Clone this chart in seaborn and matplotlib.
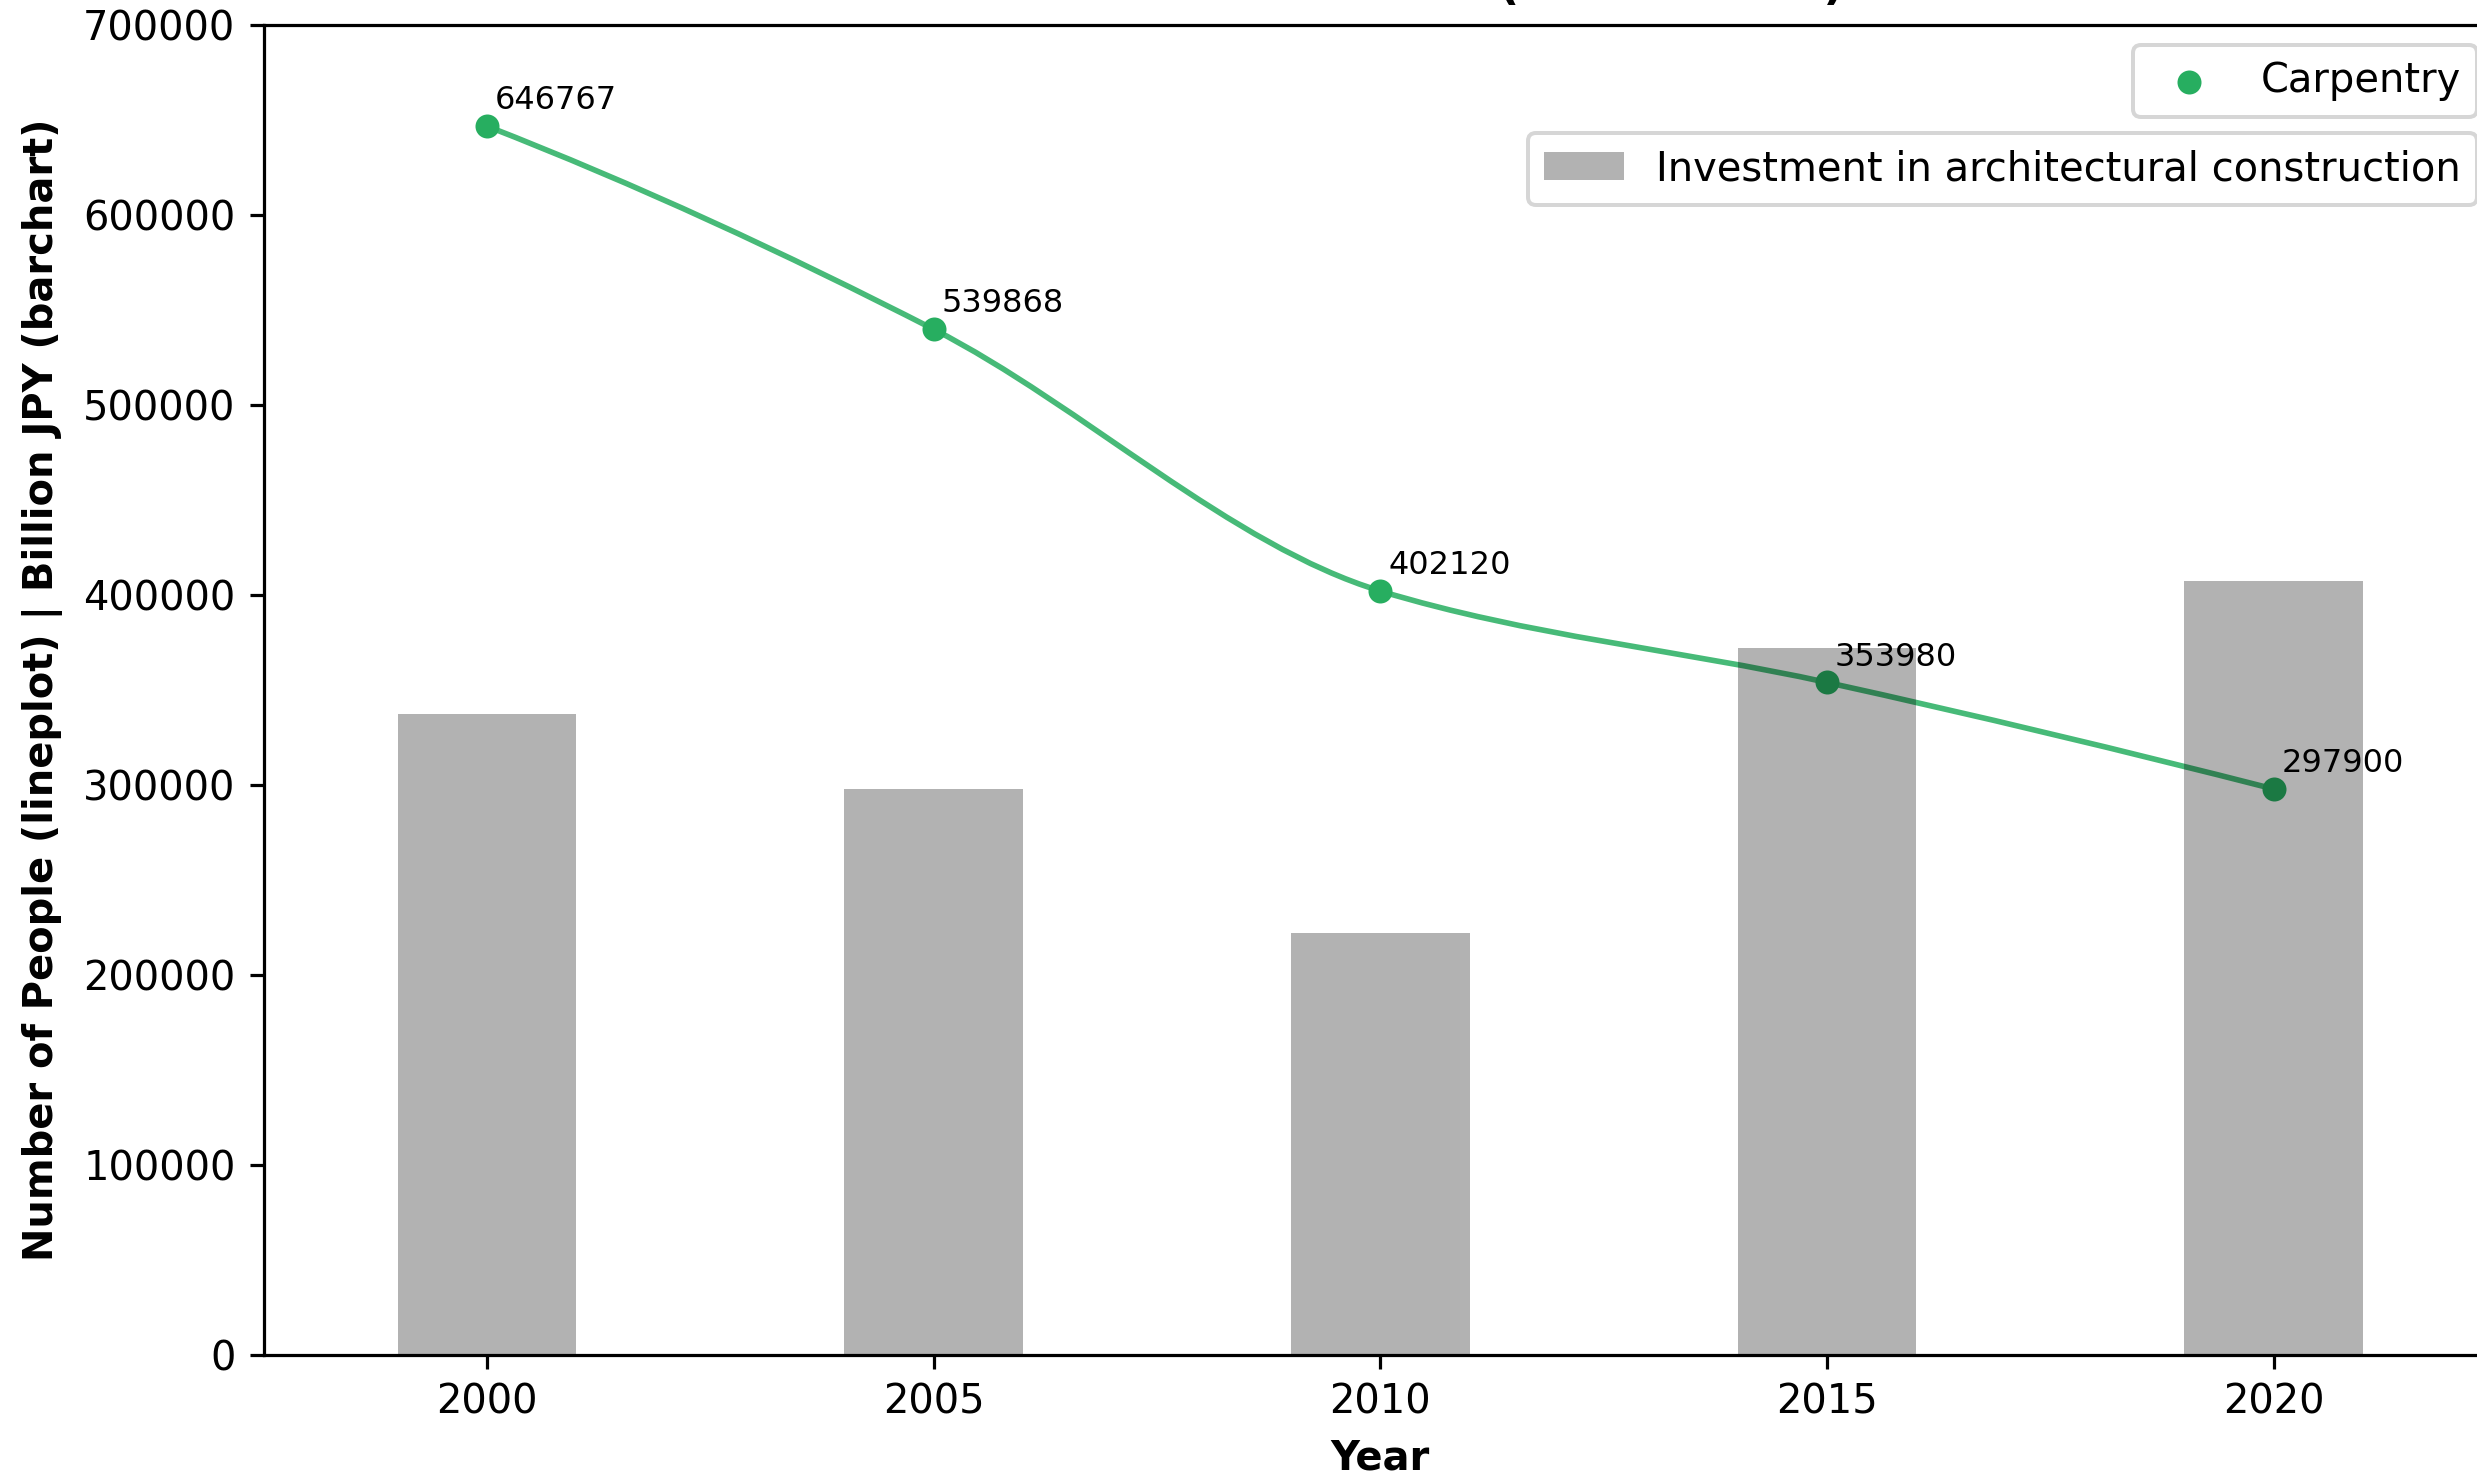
import numpy as np
import matplotlib
matplotlib.use('Agg')
import matplotlib.pyplot as plt
from matplotlib.path import Path
from matplotlib.patches import PathPatch
import seaborn as sns

# data
years = ['2000', '2005', '2010', '2015', '2020']
carpentry = [646767, 539868, 402120, 353980, 297900]
investment = [337400, 297900, 222100, 372100, 407400]

green = '#27ae60'


def pchip_slopes(ys):
    d = np.diff(ys)
    n = len(ys)
    m = np.zeros(n)
    for i in range(1, n - 1):
        if d[i - 1] * d[i] > 0:
            m[i] = 2 / (1 / d[i - 1] + 1 / d[i])
    for k, (a, b) in ((0, (d[0], d[1])), (n - 1, (d[-1], d[-2]))):
        s = (3 * a - b) / 2
        if np.sign(s) != np.sign(a):
            s = 0
        elif np.sign(a) != np.sign(b) and abs(s) > 3 * abs(a):
            s = 3 * a
        m[k] = s
    return m


def smooth_path(xs, ys):
    # monotone cubic through the points, drawn as bezier segments
    xs = np.asarray(xs, float)
    ys = np.asarray(ys, float)
    m = pchip_slopes(ys)
    verts = [(xs[0], ys[0])]
    codes = [Path.MOVETO]
    for i in range(len(ys) - 1):
        h = xs[i + 1] - xs[i]
        verts += [(xs[i] + h / 3, ys[i] + m[i] / 3),
                  (xs[i] + 2 * h / 3, ys[i + 1] - m[i + 1] / 3),
                  (xs[i + 1], ys[i + 1])]
        codes += [Path.CURVE4] * 3
    return Path(verts, codes)


dpi = 288
fig = plt.figure(figsize=(2477 / dpi, 1476 / dpi), dpi=dpi)
ax = fig.add_axes([263.5 / 2477, 121 / 1476, 2233.5 / 2477, 1330 / 1476])

pos = np.arange(len(years))

sns.scatterplot(x=pos, y=carpentry, color=green, s=36, linewidth=0,
                label='Carpentry', ax=ax, zorder=1)
ax.add_patch(PathPatch(smooth_path(pos, carpentry), facecolor='none',
                       edgecolor=green, lw=1.4, alpha=0.85, zorder=2))

sns.barplot(x=pos, y=investment, color='black', alpha=0.3, width=0.4,
            saturation=1, ax=ax, zorder=2.5,
            label='Investment in architectural construction')

for x, v in zip(pos, carpentry):
    ax.annotate(str(v), (x, v), xytext=(2, 4.2), textcoords='offset points',
                fontsize=8, zorder=4)

ax.set_xlim(-0.5, len(years) - 0.5)
ax.set_ylim(0, 700000)
ax.set_xticks(pos, years)
ax.set_yticks(np.arange(0, 700001, 100000))
ax.ticklabel_format(axis='y', style='plain')

ax.set_xlabel('Year', fontweight='bold')
ax.set_ylabel('Number of People (lineplot) | Billion JPY (barchart)',
              fontweight='bold', labelpad=5)
ax.set_title('Labor and Investment (2000 - 2020)', fontweight='bold',
             fontsize=11.4, y=1 + 26 / 1330, pad=0)

handles, labels = ax.get_legend_handles_labels()
h1 = [h for h, l in zip(handles, labels) if l == 'Carpentry']
h2 = [h for h, l in zip(handles, labels) if l != 'Carpentry']
leg1 = ax.legend(h1, ['Carpentry'], loc='upper right')
ax.add_artist(leg1)
ax.legend(h2, ['Investment in architectural construction'], loc='upper right',
          bbox_to_anchor=(1, 0.9335))

fig.savefig('out.png', dpi=dpi)
